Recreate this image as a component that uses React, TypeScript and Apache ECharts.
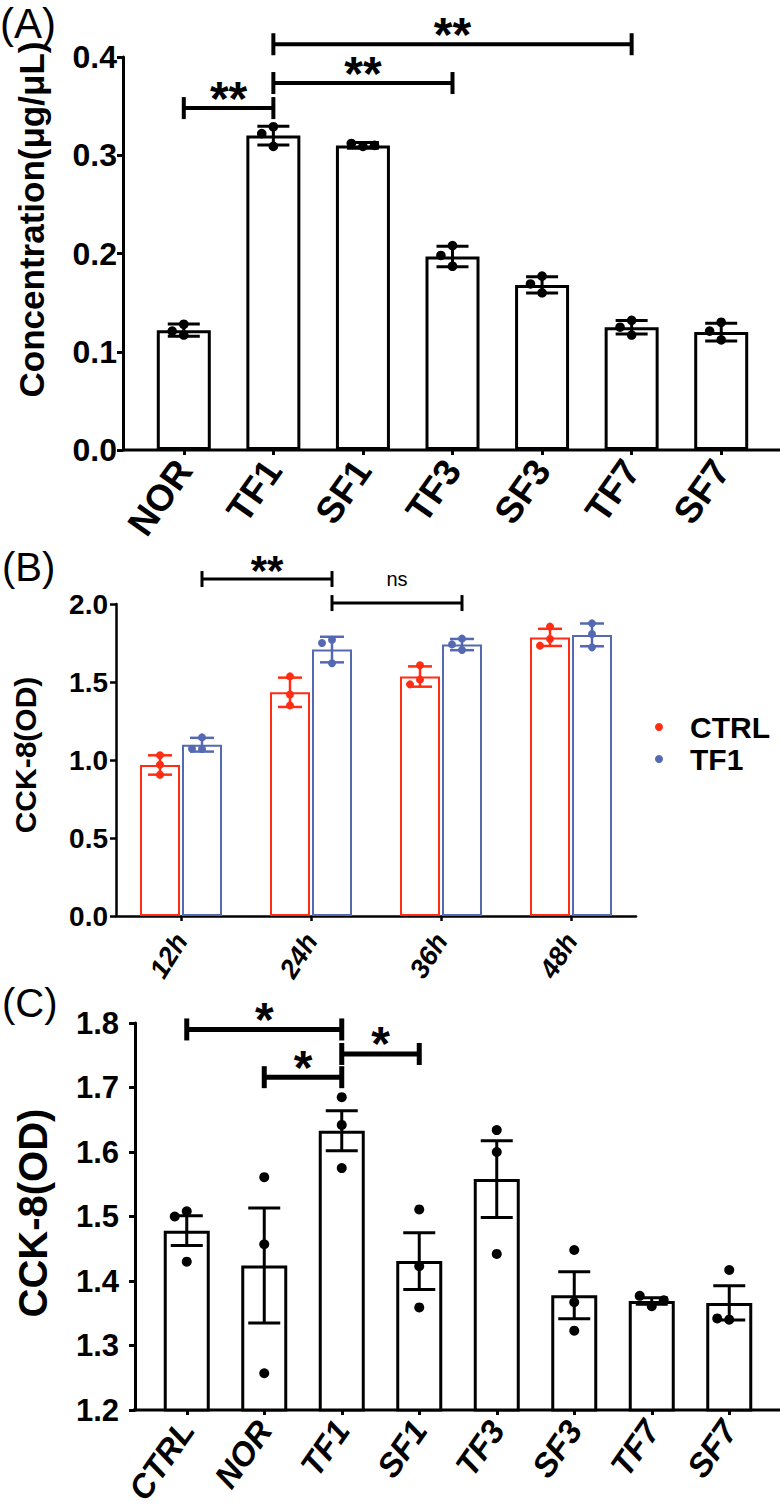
import React, { useEffect, useRef } from "react";
import * as echarts from "echarts";

// ---------------- Panel A data ----------------
const catsA = ["NOR", "TF1", "SF1", "TF3", "SF3", "TF7", "SF7"];
const meanA = [0.122, 0.32, 0.31, 0.197, 0.168, 0.125, 0.12];
const sdA = [0.0063, 0.0095, 0.003, 0.0105, 0.0083, 0.0069, 0.009];
const ptsA = [
  [0.128, 0.121, 0.117],
  [0.329, 0.322, 0.309],
  [0.309, 0.312, 0.31],
  [0.208, 0.198, 0.187],
  [0.177, 0.169, 0.16],
  [0.132, 0.125, 0.117],
  [0.13, 0.121, 0.112],
];
const ticksA = [0, 0.1, 0.2, 0.3, 0.4];
const bracketsA = [
  [0, 1, 0.348],
  [1, 3, 0.3735],
  [1, 5, 0.413],
];
const bracketLabelsA = ["**", "**", "**"];

// ---------------- Panel B data ----------------
const catsB = ["12h", "24h", "36h", "48h"];
const meanCtrl = [0.968, 1.434, 1.535, 1.786];
const sdCtrl = [0.062, 0.094, 0.065, 0.055];
const ptsCtrl = [
  [1.03, 0.97, 0.905],
  [1.536, 1.42, 1.35],
  [1.607, 1.515, 1.485],
  [1.855, 1.776, 1.733],
];
const meanTf1 = [1.098, 1.708, 1.74, 1.802];
const sdTf1 = [0.044, 0.082, 0.036, 0.073];
const ptsTf1 = [
  [1.145, 1.07, 1.072],
  [1.771, 1.75, 1.62],
  [1.778, 1.741, 1.705],
  [1.876, 1.808, 1.722],
];
const ticksB = [0, 0.5, 1.0, 1.5, 2.0];
const bracketsB = [
  [0, 1, 2.16],
  [1, 2, 2.006],
];
const bracketLabelsB = ["**", "ns"];
const seriesNamesB = ["CTRL", "TF1"];

// ---------------- Panel C data ----------------
const catsC = ["CTRL", "NOR", "TF1", "SF1", "TF3", "SF3", "TF7", "SF7"];
const meanC = [1.478, 1.424, 1.633, 1.431, 1.558, 1.378, 1.369, 1.366];
const semC = [0.023, 0.089, 0.031, 0.044, 0.0595, 0.0365, 0.005, 0.0265];
const ptsC = [
  [1.508, 1.5, 1.43],
  [1.561, 1.457, 1.257],
  [1.685, 1.642, 1.575],
  [1.511, 1.423, 1.359],
  [1.634, 1.6, 1.442],
  [1.448, 1.367, 1.323],
  [1.361, 1.377, 1.37],
  [1.417, 1.34, 1.342],
];
const ticksC = [1.2, 1.3, 1.4, 1.5, 1.6, 1.7, 1.8];
const bracketsC = [
  [0, 2, 1.79],
  [1, 2, 1.716],
  [2, 3, 1.752],
];
const bracketLabelsC = ["*", "*", "*"];

// ---------------- styles ----------------
const FONT = '"Liberation Sans", Arial, Helvetica, sans-serif';
const BLACK = "#000000";
const RED = "#ff2d13";
const BLUE = "#5469b2";

const GA = { left: 139, top: 57, width: 627, height: 393 };
const GB = { left: 116, top: 604, width: 520, height: 312 };
const GC = { left: 148, top: 1023, width: 620, height: 387 };

const B_BAR = 40;
const B_SHIFT = 21;

function swarmOffsets(ys: number[], r: number): number[] {
  const placed: { x: number; y: number }[] = [];
  const step = 2 * r + 2;
  const out: number[] = [];
  for (const y of ys) {
    let chosen = 0;
    for (let k = 0; k < 11; k++) {
      const off = k === 0 ? 0 : (k % 2 === 1 ? -1 : 1) * Math.ceil(k / 2) * step;
      if (placed.every((p) => Math.hypot(p.x - off, p.y - y) >= 2 * r + 0.5)) {
        chosen = off;
        break;
      }
    }
    placed.push({ x: chosen, y });
    out.push(chosen);
  }
  return out;
}

function errorRender(
  means: number[],
  errs: number[],
  pts: number[][],
  o: { shift: number; cap: number; r: number; color: string; lw: number }
) {
  return (params: any, api: any) => {
    const i = params.dataIndex;
    const x = api.coord([i, means[i]])[0] + o.shift;
    const yHi = api.coord([i, means[i] + errs[i]])[1];
    const yLo = api.coord([i, means[i] - errs[i]])[1];
    const pys = pts[i].map((v) => api.coord([i, v])[1]);
    const offs = swarmOffsets(pys, o.r);
    const ls = { stroke: o.color, lineWidth: o.lw };
    const children: any[] = [
      { type: "line", z2: 10, shape: { x1: x, y1: yHi, x2: x, y2: yLo }, style: ls },
      { type: "line", z2: 10, shape: { x1: x - o.cap, y1: yHi, x2: x + o.cap, y2: yHi }, style: ls },
      { type: "line", z2: 10, shape: { x1: x - o.cap, y1: yLo, x2: x + o.cap, y2: yLo }, style: ls },
    ];
    pys.forEach((py, j) => {
      children.push({
        type: "circle",
        z2: 11,
        shape: { cx: x + offs[j], cy: py, r: o.r },
        style: { fill: o.color },
      });
    });
    return { type: "group", children };
  };
}

function bracketRender(
  list: number[][],
  labels: string[],
  o: { lw: number; capH: number; starSize: number; starOff: number; nsSize: number; nsOff: number; shift: number }
) {
  return (params: any, api: any) => {
    const b = list[params.dataIndex];
    const p1 = api.coord([b[0], b[2]]);
    const p2 = api.coord([b[1], b[2]]);
    const x1 = p1[0] + o.shift;
    const x2 = p2[0] + o.shift;
    const y = p1[1];
    const label = labels[params.dataIndex];
    const star = label.indexOf("*") >= 0;
    const ls = { stroke: BLACK, lineWidth: o.lw };
    return {
      type: "group",
      children: [
        { type: "line", shape: { x1, y1: y, x2, y2: y }, style: ls },
        { type: "line", shape: { x1, y1: y - o.capH, x2: x1, y2: y + o.capH }, style: ls },
        { type: "line", shape: { x1: x2, y1: y - o.capH, x2, y2: y + o.capH }, style: ls },
        {
          type: "text",
          x: (x1 + x2) / 2,
          y: y - (star ? o.starOff : o.nsOff),
          style: {
            text: label,
            fill: BLACK,
            fontSize: star ? o.starSize : o.nsSize,
            fontWeight: star ? "bold" : "normal",
            fontFamily: FONT,
            align: "center",
            verticalAlign: "middle",
          },
        },
      ],
    };
  };
}

function valueAxis(
  grid: number,
  ticks: number[],
  o: { offset: number; lw: number; fs: number; margin: number; name: string; nameSize: number; nameGap: number; namePad: number }
) {
  return {
    gridIndex: grid,
    type: "value",
    min: ticks[0],
    max: ticks[ticks.length - 1],
    interval: ticks[1] - ticks[0],
    offset: o.offset,
    axisLine: { show: true, lineStyle: { color: BLACK, width: o.lw } },
    axisTick: { show: true, length: 6, lineStyle: { color: BLACK, width: o.lw } },
    axisLabel: {
      margin: o.margin,
      fontSize: o.fs,
      fontWeight: "bold",
      fontFamily: FONT,
      color: BLACK,
      formatter: (v: number) => v.toFixed(1),
    },
    splitLine: { show: false },
    name: o.name,
    nameLocation: "middle",
    nameGap: o.nameGap,
    nameTextStyle: {
      fontSize: o.nameSize,
      fontWeight: "bold",
      fontFamily: FONT,
      color: BLACK,
      padding: [0, 0, 0, o.namePad],
    },
  };
}

function catAxis(
  grid: number,
  cats: string[],
  o: { lw: number; fs: number; margin: number; italic: boolean; showLine: boolean; rotate: number }
) {
  return {
    gridIndex: grid,
    type: "category",
    data: cats,
    axisLine: { show: o.showLine, lineStyle: { color: BLACK, width: o.lw } },
    axisTick: { show: true, alignWithLabel: true, length: 5, lineStyle: { color: BLACK, width: o.lw } },
    axisLabel: {
      interval: 0,
      rotate: o.rotate,
      margin: o.margin,
      fontSize: o.fs,
      fontWeight: "bold",
      fontStyle: o.italic ? "italic" : "normal",
      fontFamily: FONT,
      color: BLACK,
      align: "right",
      verticalAlign: "middle",
    },
    splitLine: { show: false },
  };
}

function buildOption() {
  const axisBottomA = GA.top + GA.height;
  const axisBottomC = GC.top + GC.height;
  return {
    animation: false,
    backgroundColor: "#ffffff",
    grid: [
      { ...GA, containLabel: false },
      { ...GB, containLabel: false },
      { ...GC, containLabel: false },
    ],
    xAxis: [
      catAxis(0, catsA, { lw: 3, fs: 37, margin: 14, italic: false, showLine: false, rotate: 55 }),
      catAxis(1, catsB, { lw: 2.5, fs: 27, margin: 20, italic: true, showLine: true, rotate: 58 }),
      catAxis(2, catsC, { lw: 3, fs: 33, margin: 14, italic: true, showLine: false, rotate: 55 }),
    ],
    yAxis: [
      valueAxis(0, ticksA, { offset: 16, lw: 3, fs: 32, margin: 6, name: "Concentration(μg/μL)", nameSize: 35, nameGap: 74, namePad: 68 }),
      valueAxis(1, ticksB, { offset: 0, lw: 2.5, fs: 28, margin: 8, name: "CCK-8(OD)", nameSize: 30, nameGap: 76, namePad: 10 }),
      valueAxis(2, ticksC, { offset: 13, lw: 3, fs: 31, margin: 16, name: "CCK-8(OD)", nameSize: 40, nameGap: 82, namePad: 7 }),
    ],
    legend: {
      orient: "vertical",
      left: 650,
      top: 707,
      itemWidth: 52,
      itemHeight: 8,
      itemGap: 2,
      icon: "circle",
      selectedMode: false,
      textStyle: { fontSize: 30, fontWeight: "bold", fontFamily: FONT, color: BLACK, lineHeight: 30 },
      data: [
        { name: seriesNamesB[0], itemStyle: { color: RED, borderWidth: 0 } },
        { name: seriesNamesB[1], itemStyle: { color: BLUE, borderWidth: 0 } },
      ],
    },
    graphic: [
      { type: "text", left: 0, top: 2, style: { text: "(A)", fontSize: 42, fontFamily: FONT, fill: BLACK } },
      { type: "text", left: 2, top: 547, style: { text: "(B)", fontSize: 40, fontFamily: FONT, fill: BLACK } },
      { type: "text", left: 2, top: 983, style: { text: "(C)", fontSize: 40, fontFamily: FONT, fill: BLACK } },
      {
        type: "line",
        shape: { x1: GA.left - 17, y1: axisBottomA, x2: 780, y2: axisBottomA },
        style: { stroke: BLACK, lineWidth: 3 },
      },
      {
        type: "line",
        shape: { x1: GC.left - 15, y1: axisBottomC, x2: 780, y2: axisBottomC },
        style: { stroke: BLACK, lineWidth: 3 },
      },
    ],
    series: [
      // ---- A ----
      {
        type: "bar",
        xAxisIndex: 0,
        yAxisIndex: 0,
        z: 2,
        data: meanA,
        barWidth: 54,
        clip: true,
        silent: true,
        itemStyle: { color: "#ffffff", borderColor: BLACK, borderWidth: 3 },
      },
      {
        type: "custom",
        xAxisIndex: 0,
        yAxisIndex: 0,
        z: 5,
        clip: false,
        silent: true,
        data: meanA.map((m, i) => [i, m]),
        encode: { x: 0, y: 1 },
        renderItem: errorRender(meanA, sdA, ptsA, { shift: 0, cap: 16, r: 4.8, color: BLACK, lw: 3 }),
      },
      {
        type: "custom",
        xAxisIndex: 0,
        yAxisIndex: 0,
        z: 6,
        clip: false,
        silent: true,
        data: bracketsA.map((b) => [b[0], b[1], b[2]]),
        encode: { x: [0, 1], y: 2 },
        renderItem: bracketRender(bracketsA, bracketLabelsA, {
          lw: 4, capH: 11, starSize: 48, starOff: 10, nsSize: 20, nsOff: 24, shift: 0,
        }),
      },
      // ---- B ----
      {
        name: seriesNamesB[0],
        type: "bar",
        xAxisIndex: 1,
        yAxisIndex: 1,
        z: 2,
        data: meanCtrl,
        barWidth: B_BAR,
        barGap: "5%",
        silent: true,
        itemStyle: { color: "#ffffff", borderColor: RED, borderWidth: 2 },
      },
      {
        name: seriesNamesB[1],
        type: "bar",
        xAxisIndex: 1,
        yAxisIndex: 1,
        z: 2,
        data: meanTf1,
        barWidth: B_BAR,
        barGap: "5%",
        silent: true,
        itemStyle: { color: "#ffffff", borderColor: BLUE, borderWidth: 2 },
      },
      {
        type: "custom",
        xAxisIndex: 1,
        yAxisIndex: 1,
        z: 5,
        clip: false,
        silent: true,
        data: meanCtrl.map((m, i) => [i, m]),
        encode: { x: 0, y: 1 },
        renderItem: errorRender(meanCtrl, sdCtrl, ptsCtrl, { shift: -B_SHIFT, cap: 12, r: 4, color: RED, lw: 2.5 }),
      },
      {
        type: "custom",
        xAxisIndex: 1,
        yAxisIndex: 1,
        z: 5,
        clip: false,
        silent: true,
        data: meanTf1.map((m, i) => [i, m]),
        encode: { x: 0, y: 1 },
        renderItem: errorRender(meanTf1, sdTf1, ptsTf1, { shift: B_SHIFT, cap: 12, r: 4, color: BLUE, lw: 2.5 }),
      },
      {
        type: "custom",
        xAxisIndex: 1,
        yAxisIndex: 1,
        z: 6,
        clip: false,
        silent: true,
        data: bracketsB.map((b) => [b[0], b[1], b[2]]),
        encode: { x: [0, 1], y: 2 },
        renderItem: bracketRender(bracketsB, bracketLabelsB, {
          lw: 3, capH: 8, starSize: 42, starOff: 9, nsSize: 20, nsOff: 24, shift: B_SHIFT,
        }),
      },
      // ---- C ----
      {
        type: "bar",
        xAxisIndex: 2,
        yAxisIndex: 2,
        z: 2,
        data: meanC,
        barWidth: 46,
        clip: true,
        silent: true,
        itemStyle: { color: "#ffffff", borderColor: BLACK, borderWidth: 3 },
      },
      {
        type: "custom",
        xAxisIndex: 2,
        yAxisIndex: 2,
        z: 5,
        clip: false,
        silent: true,
        data: meanC.map((m, i) => [i, m]),
        encode: { x: 0, y: 1 },
        renderItem: errorRender(meanC, semC, ptsC, { shift: 0, cap: 16, r: 5, color: BLACK, lw: 3 }),
      },
      {
        type: "custom",
        xAxisIndex: 2,
        yAxisIndex: 2,
        z: 6,
        clip: false,
        silent: true,
        data: bracketsC.map((b) => [b[0], b[1], b[2]]),
        encode: { x: [0, 1], y: 2 },
        renderItem: bracketRender(bracketsC, bracketLabelsC, {
          lw: 5, capH: 11, starSize: 48, starOff: 10, nsSize: 20, nsOff: 24, shift: 0,
        }),
      },
    ],
  };
}

export default function App() {
  const ref = useRef<HTMLDivElement>(null);
  useEffect(() => {
    if (!ref.current) return;
    const chart = echarts.init(ref.current, null, { renderer: "svg" });
    chart.setOption(buildOption() as any);
    return () => chart.dispose();
  }, []);
  return (
    <div
      ref={ref}
      style={{ position: "fixed", left: 0, top: 0, width: 784, height: 1510, background: "#ffffff" }}
    />
  );
}
